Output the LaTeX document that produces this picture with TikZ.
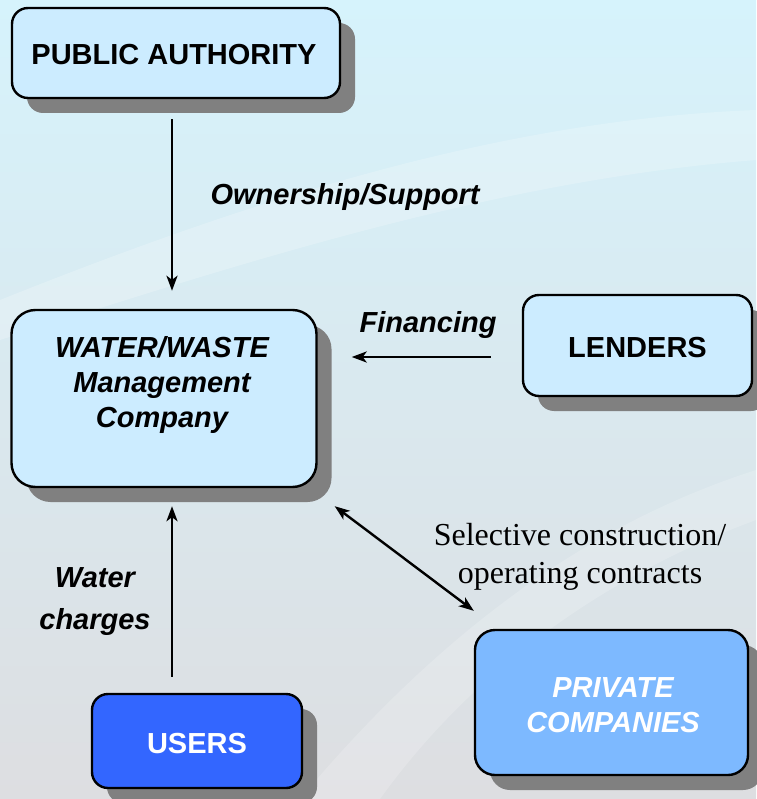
\documentclass[tikz,border=0pt]{standalone}
\usepackage{fontspec}
\setmainfont{Liberation Serif}
\newfontfamily\arialfont{Liberation Sans}
\usetikzlibrary{arrows.meta,shadows}
\definecolor{boxlight}{RGB}{204,236,255}
\definecolor{boxmid}{RGB}{125,185,255}
\definecolor{boxdark}{RGB}{51,102,255}
\definecolor{shadowgray}{RGB}{128,128,128}
\definecolor{bgtop}{RGB}{214,243,252}
\definecolor{bgmid}{RGB}{226,234,246}
\definecolor{bgbot}{RGB}{221,222,225}
\tikzset{
	box/.style={draw=black,line width=2.4pt,rounded corners=16pt,fill=boxlight,align=center,inner sep=0pt,
		drop shadow={shadow xshift=15pt,shadow yshift=-15pt,fill=shadowgray,opacity=1}},
	bigtxt/.style={font=\arialfont\bfseries\fontsize{29}{35}\selectfont,align=center},
	itxt/.style={bigtxt,font=\arialfont\bfseries\itshape\fontsize{29}{35}\selectfont},
	arr/.style={line width=2.7pt,-{Stealth[length=15pt,width=11pt,inset=4pt]}},
}
\begin{document}
\begin{tikzpicture}[x=1pt,y=-1pt]
		\useasboundingbox (0,0) rectangle (756,799);
		\shade[top color=bgtop,middle color=bgmid,bottom color=bgbot] (0,0) rectangle (756,799);
		% faint waves
		\fill[white,opacity=.22] (0,300) .. controls (250,200) and (500,120) .. (756,110) -- (756,160) .. controls (500,180) and (250,260) .. (0,340) -- cycle;
		\fill[white,opacity=.18] (300,799) .. controls (450,620) and (600,520) .. (756,470) -- (756,520) .. controls (620,570) and (480,660) .. (380,799) -- cycle;
		%
		\node[box,minimum width=328pt,minimum height=90pt] (public) at (176,53) {};
		\node[bigtxt] (publictxt) at (174,55) {PUBLIC AUTHORITY};
		\node[box,rounded corners=24pt,minimum width=305pt,minimum height=177pt] (water) at (164,398.5) {};
		\node[itxt] (watertxt) at (162,385) {WATER/WASTE\\Management\\Company};
		\node[box,minimum width=229pt,minimum height=101pt] (lenders) at (637.5,345.5) {};
		\node[bigtxt] (lenderstxt) at (637.5,348) {LENDERS};
		\node[box,rounded corners=20pt,fill=boxmid,minimum width=273pt,minimum height=145pt] (private) at (611.5,702.5) {};
		\node[itxt,white] (privatetxt) at (613,705) {PRIVATE\\COMPANIES};
		\node[box,fill=boxdark,minimum width=210pt,minimum height=94pt] (users) at (197,741) {};
		\node[bigtxt,white] (userstxt) at (197,744) {USERS};
		%
		\draw[arr,shorten <=20pt,shorten >=18pt] ([xshift=-4pt]public.south) -- ([xshift=-4pt]public.south |- water.north);
		\draw[arr,shorten <=31pt,shorten >=34pt] ([yshift=-11.5pt]lenders.west) -- ([yshift=-11.5pt]lenders.west -| water.east);
		\draw[arr,shorten <=16pt,shorten >=18pt] ([xshift=-25pt]users.north) -- ([xshift=-25pt]users.north |- water.south);
		\draw[line width=2.4pt,{Stealth[length=15pt,width=11pt,inset=4pt]}-{Stealth[length=15pt,width=11pt,inset=4pt]}] ([shift={(17pt,-18pt)}]water.south east) -- ([yshift=18pt]private.north west);
		%
		\node[itxt,anchor=west] (ownlbl) at (207,197) {Ownership/Support};
		\node[itxt] (finlbl) at (428,325) {Financing};
		\node[itxt,font=\arialfont\bfseries\itshape\fontsize{29}{42}\selectfont] (chglbl) at (95,602) {Water\\charges};
		\node[font=\fontsize{32}{38}\selectfont,align=center] (sellbl) at (580,557) {Selective construction/\\operating contracts};
	\end{tikzpicture}
\end{document}
